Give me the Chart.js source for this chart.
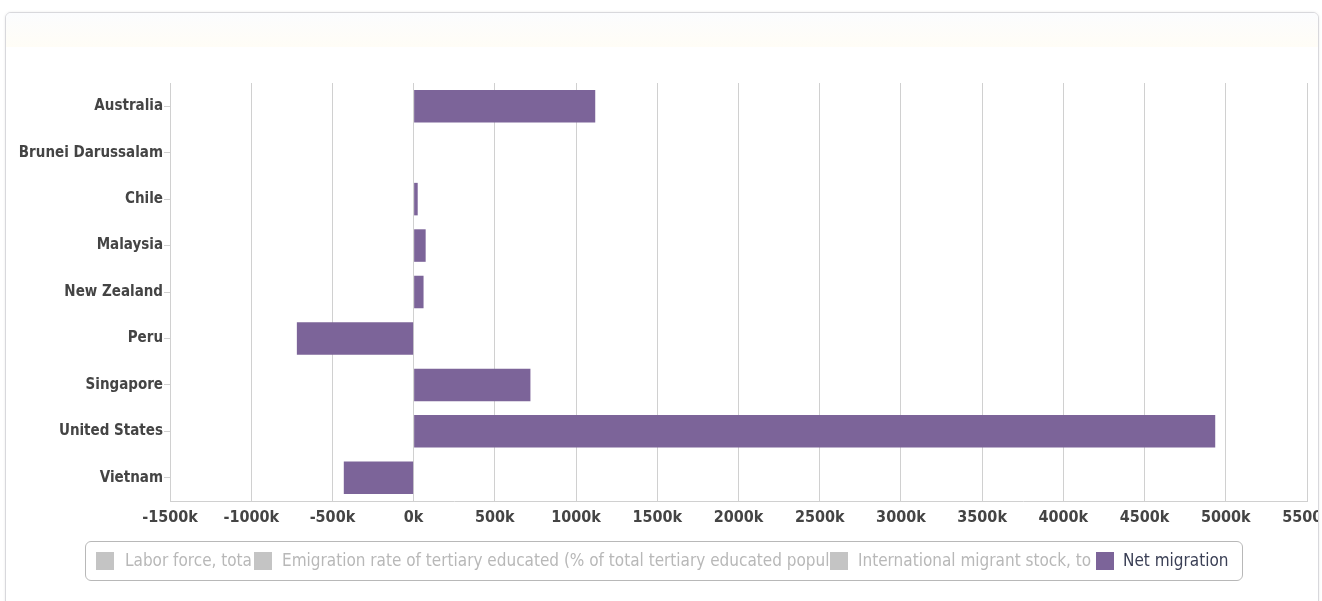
<!DOCTYPE html>
<html>
<head>
<meta charset="utf-8">
<script src="https://cdn.jsdelivr.net/npm/chart.js@4.4.1/dist/chart.umd.min.js"></script>
<style>
  body { margin: 0; background: #fff; width: 1322px; height: 601px; overflow: hidden; }
  #card {
    position: absolute; left: 5px; top: 12px; width: 1312px; height: 620px;
    border: 1px solid #d8d8dc; border-radius: 6px; overflow: hidden;
    box-shadow: 0 0 3px rgba(0,0,0,0.08); background: #fff;
  }
  #band { position: absolute; left: 0; top: 0; right: 0; height: 34px;
    background: linear-gradient(#fbfcfe, #fffdf6); }
  #chartBox { position: absolute; left: 0; top: 0; width: 1312px; height: 530px; }
  #legend {
    position: absolute; left: 79px; top: 528px; width: 1156px; height: 38px;
    border: 1px solid #b8b8b8; border-radius: 6px; overflow: hidden;
    font-family: "Liberation Sans Narrow", "DejaVu Sans Condensed", sans-serif; font-size: 17px;
  }
  .sw { position: absolute; top: 10px; width: 18px; height: 18px; }
  .lb { position: absolute; top: 8px; white-space: nowrap; overflow: hidden; background: #fff; }
</style>
</head>
<body>
<div id="card">
  <div id="band"></div>
  <div id="chartBox"><canvas id="migChart"></canvas></div>
  <div id="legend"></div>
</div>
<script>
// chart data
const countries = ['Australia', 'Brunei Darussalam', 'Chile', 'Malaysia', 'New Zealand',
                   'Peru', 'Singapore', 'United States', 'Vietnam'];
const netMigration = [1118000, null, 25000, 74000, 61000, -719000, 719000, 4935000, -430000];
const seriesNames = ['Labor force, tota', 'Emigration rate of tertiary educated (% of total tertiary educated popul',
                     'International migrant stock, to', 'Net migration'];
const xTicksMin = -1500000;
const xTicksMax = 5500000;
const xTickStep = 500000;

const FONT = '"Liberation Sans Narrow", "DejaVu Sans Condensed", sans-serif';
const purple = '#7c6499';
const gray = '#c4c4c4';

const datasets = seriesNames.map((name, i) => {
    const isNet = i === seriesNames.length - 1;
    return {
        label: name,
        data: isNet ? netMigration : [],
        hidden: !isNet,
        backgroundColor: isNet ? purple : gray,
        borderWidth: 0,
        categoryPercentage: 0.7,
        barPercentage: 1.0
    };
});

const ctx = document.getElementById('migChart').getContext('2d');
const chart = new Chart(ctx, {
    type: 'bar',
    data: { labels: countries, datasets: datasets },
    options: {
        indexAxis: 'y',
        responsive: true,
        maintainAspectRatio: false,
        animation: false,
        layout: { padding: { top: 70, right: 11, left: 0, bottom: 4 } },
        plugins: {
            legend: { display: false },
            tooltip: { enabled: false }
        },
        scales: {
            x: {
                min: xTicksMin,
                max: xTicksMax,
                grid: { color: '#d0d0d0', drawTicks: false },
                border: { color: '#d0d0d0' },
                ticks: {
                    stepSize: xTickStep,
                    padding: 7,
                    color: '#444',
                    font: { family: FONT, size: 16, weight: 'bold' },
                    callback: v => (v / 1000) + 'k'
                },
                afterFit: s => { s.height = 38; s.paddingLeft = 0; s.paddingRight = 0; }
            },
            y: {
                grid: { drawOnChartArea: false, offset: false, tickLength: 6, color: '#d0d0d0' },
                border: { color: '#d0d0d0' },
                ticks: {
                    padding: 1,
                    color: '#444',
                    font: { family: FONT, size: 15, weight: 'bold' }
                },
                afterFit: s => { s.width = 164; }
            }
        }
    }
});

// legend built from the datasets
const legendEl = document.getElementById('legend');
const swatchX = [10, 168, 744, 1010];
const labelX = [39, 196, 772, 1037];
chart.data.datasets.forEach((ds, i) => {
    const lb = document.createElement('div');
    lb.className = 'lb';
    lb.style.left = labelX[i] + 'px';
    lb.style.color = ds.hidden ? '#b8b8b8' : '#3a3f55';
    lb.textContent = ds.label;
    const sw = document.createElement('div');
    sw.className = 'sw';
    sw.style.left = swatchX[i] + 'px';
    sw.style.background = ds.hidden ? gray : purple;
    legendEl.appendChild(lb);
    legendEl.appendChild(sw);
});
</script>
</body>
</html>
